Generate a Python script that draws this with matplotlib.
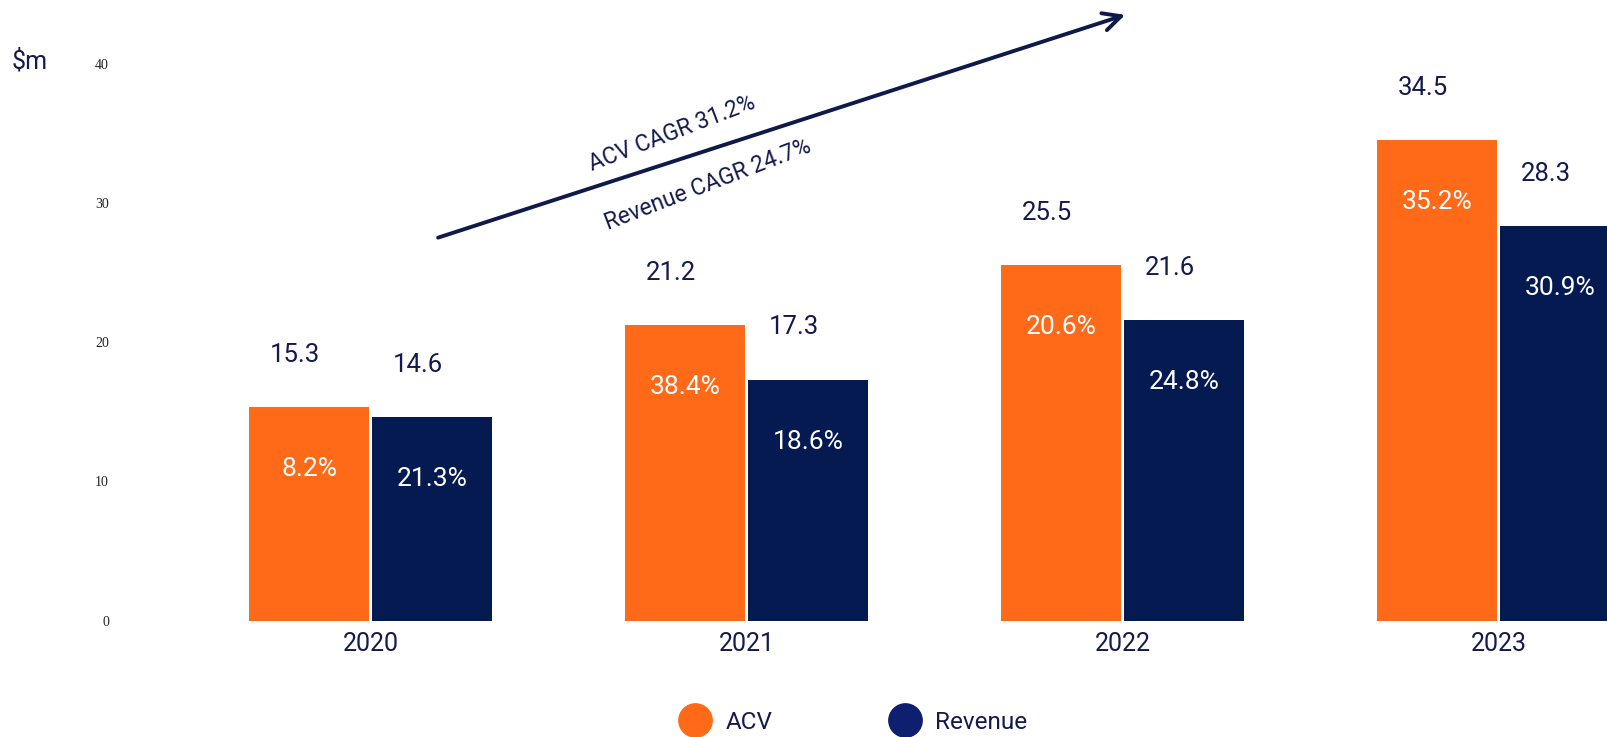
import numpy as np
import matplotlib.pyplot as plt
from matplotlib.lines import Line2D

years = ["2020", "2021", "2022", "2023"]
acv = [15.3, 21.2, 25.5, 34.5]
revenue = [14.6, 17.3, 21.6, 28.3]
acv_growth = ["8.2%", "38.4%", "20.6%", "35.2%"]
rev_growth = ["21.3%", "18.6%", "24.8%", "30.9%"]
yticks = [0, 10, 20, 30, 40]

ORANGE = "#FF6A19"
NAVY = "#061A52"
TEXT = "#141A4D"

plt.rcParams["font.family"] = ["Roboto", "DejaVu Sans"]

fig = plt.figure(figsize=(16.08, 7.37), dpi=100)
ax = fig.add_axes([120 / 1608, 1 - 620.5 / 737, 1488 / 1608, (620.5 - 63.6) / 737])

x = np.arange(len(years))
w = 0.318
off = 0.163
b1 = ax.bar(x - off, acv, w, color=ORANGE)
b2 = ax.bar(x + off, revenue, w, color=NAVY)

ax.set_xlim(-0.666, 3.291)
ax.set_ylim(0, 40)
ax.set_yticks(yticks)
ax.set_yticklabels([str(t) for t in yticks], family="Liberation Serif", fontsize=10, color="#222222")
ax.set_xticks(x)
ax.set_xticklabels(years, fontsize=18, color=TEXT)
ax.tick_params(length=0)
ax.tick_params(axis="y", pad=8)
ax.tick_params(axis="x", pad=8.5)
for s in ax.spines.values():
    s.set_visible(False)

# value labels above bars, growth labels inside bars
for xs, vals, pcts in [(x - off, acv, acv_growth), (x + off, revenue, rev_growth)]:
    for xi, v, p in zip(xs, vals, pcts):
        ax.text(xi - 0.037, v + 3.75, f"{v:.1f}", ha="center", va="center",
                fontsize=18.5, color=TEXT, clip_on=False)
        ax.text(xi, v - 4.45, p, ha="center", va="center", fontsize=19, color="white")

# CAGR arrow
ax.annotate("", xy=(2.007, 43.5), xytext=(0.18, 27.5),
            arrowprops=dict(arrowstyle="->", color="#0F1A4A", lw=2.8,
                            mutation_scale=32, shrinkA=0, shrinkB=0),
            annotation_clip=False)
fig.text(672 / 1608, 1 - 133 / 737, "ACV CAGR 31.2%", rotation=21, ha="center", va="center",
         fontsize=16.5, color=TEXT)
fig.text(708 / 1608, 1 - 185 / 737, "Revenue CAGR 24.7%", rotation=21, ha="center", va="center",
         fontsize=16.5, color=TEXT)

fig.text(12 / 1608, 1 - 61 / 737, r"\$m", ha="left", va="center", fontsize=18, color=TEXT)

handles = [Line2D([], [], ls="none", marker="o", markersize=24, color=ORANGE),
           Line2D([], [], ls="none", marker="o", markersize=24, color="#0D1F6E")]
fig.legend(handles, ["ACV", "Revenue"], loc="center", bbox_to_anchor=(0.530, 0.02),
           ncol=2, frameon=False, fontsize=17.5, labelcolor=TEXT,
           handletextpad=0.5, columnspacing=4.7, handlelength=1.5)

fig.savefig("out.png", dpi=100)
